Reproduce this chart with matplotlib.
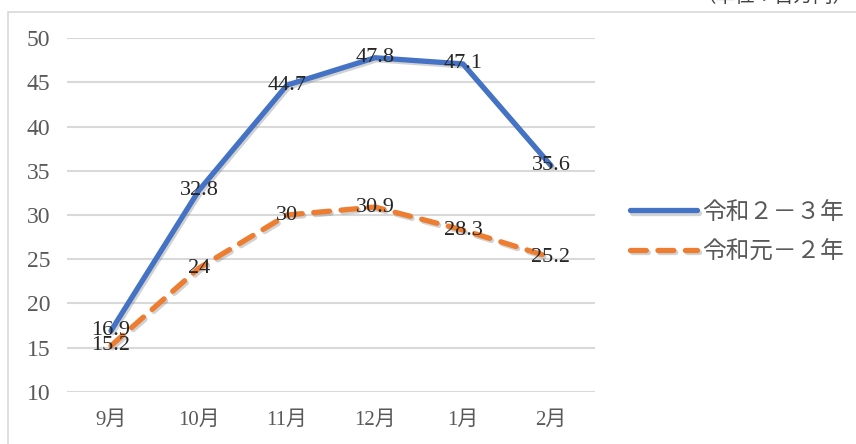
import matplotlib
matplotlib.use("Agg")
import matplotlib.pyplot as plt
import matplotlib.patheffects as pe
from matplotlib.patches import Rectangle

categories = ["9月", "10月", "11月", "12月", "1月", "2月"]
series_r2 = [16.9, 32.8, 44.7, 47.8, 47.1, 35.6]
series_r1 = [15.2, 24, 30, 30.9, 28.3, 25.2]
labels_r2 = ["16.9", "32.8", "44.7", "47.8", "47.1", "35.6"]
labels_r1 = ["15.2", "24", "30", "30.9", "28.3", "25.2"]
series_names = ["令和２－３年", "令和元－２年"]
yticks = [10, 15, 20, 25, 30, 35, 40, 45, 50]
unit_text = "（単位：百万円）"

W, H = 856, 444
fig = plt.figure(figsize=(W / 100, H / 100), dpi=100)

# chart border (partially visible)
fig.patches.append(Rectangle((8 / W, -0.1), 1.2, 1 - 12 / H + 0.1,
                             transform=fig.transFigure, fill=False,
                             edgecolor="#d9d9d9", linewidth=1.2))

ax = fig.add_axes([67 / W, (H - 391.7) / H, 528 / W, (391.7 - 38.3) / H])
x = list(range(len(categories)))

shadow = [pe.SimpleLineShadow(offset=(1.2, -1.5), shadow_color="#7f7f7f", alpha=0.35), pe.Normal()]

ax.plot(x, series_r2, color="#4472C4", linewidth=3.8, solid_capstyle="round",
        solid_joinstyle="round", label=series_names[0], path_effects=shadow, zorder=3)
ax.plot(x, series_r1, color="#ED7D31", linewidth=3.8, linestyle=(0, (3.0, 2.2)),
        dash_capstyle="round", dash_joinstyle="round", label=series_names[1],
        path_effects=shadow, zorder=3)

lab_font = dict(family=["Liberation Serif"], fontsize=16, color="#262626")
for xi, v, t in zip(x, series_r2, labels_r2):
    ax.text(xi, v, t, ha="center", va="center", zorder=4, **lab_font)
for xi, v, t in zip(x, series_r1, labels_r1):
    ax.text(xi, v, t, ha="center", va="center", zorder=4, **lab_font)

ax.set_xlim(-0.5, len(categories) - 0.5)
ax.set_ylim(10, 50)
ax.set_yticks(yticks)
ax.set_yticklabels([str(v) for v in yticks], family=["Liberation Serif"],
                   fontsize=17, color="#595959")
ax.set_xticks(x)
ax.set_xticklabels(categories, family=["Liberation Serif", "Noto Sans CJK JP"],
                   fontsize=15, color="#595959")
ax.tick_params(axis="y", length=0, pad=12)
ax.tick_params(axis="x", length=0, pad=14)
ax.grid(axis="y", color="#d9d9d9", linewidth=1.5)
ax.set_axisbelow(True)
for s in ax.spines.values():
    s.set_visible(False)

leg = ax.legend(loc="center left", bbox_to_anchor=(630 / W, 1 - 232 / H),
                bbox_transform=fig.transFigure, frameon=False,
                prop=dict(family=["Noto Sans CJK JP"], size=17),
                handlelength=2.85, handletextpad=0.2, labelspacing=0.7,
                borderpad=0, borderaxespad=0)
for t in leg.get_texts():
    t.set_color("#595959")

fig.text(852 / W, 1 - 1.5 / H, unit_text, ha="right", va="baseline",
         family=["Noto Sans CJK JP"], fontsize=14, color="#404040")

fig.savefig("out.png", dpi=100)
